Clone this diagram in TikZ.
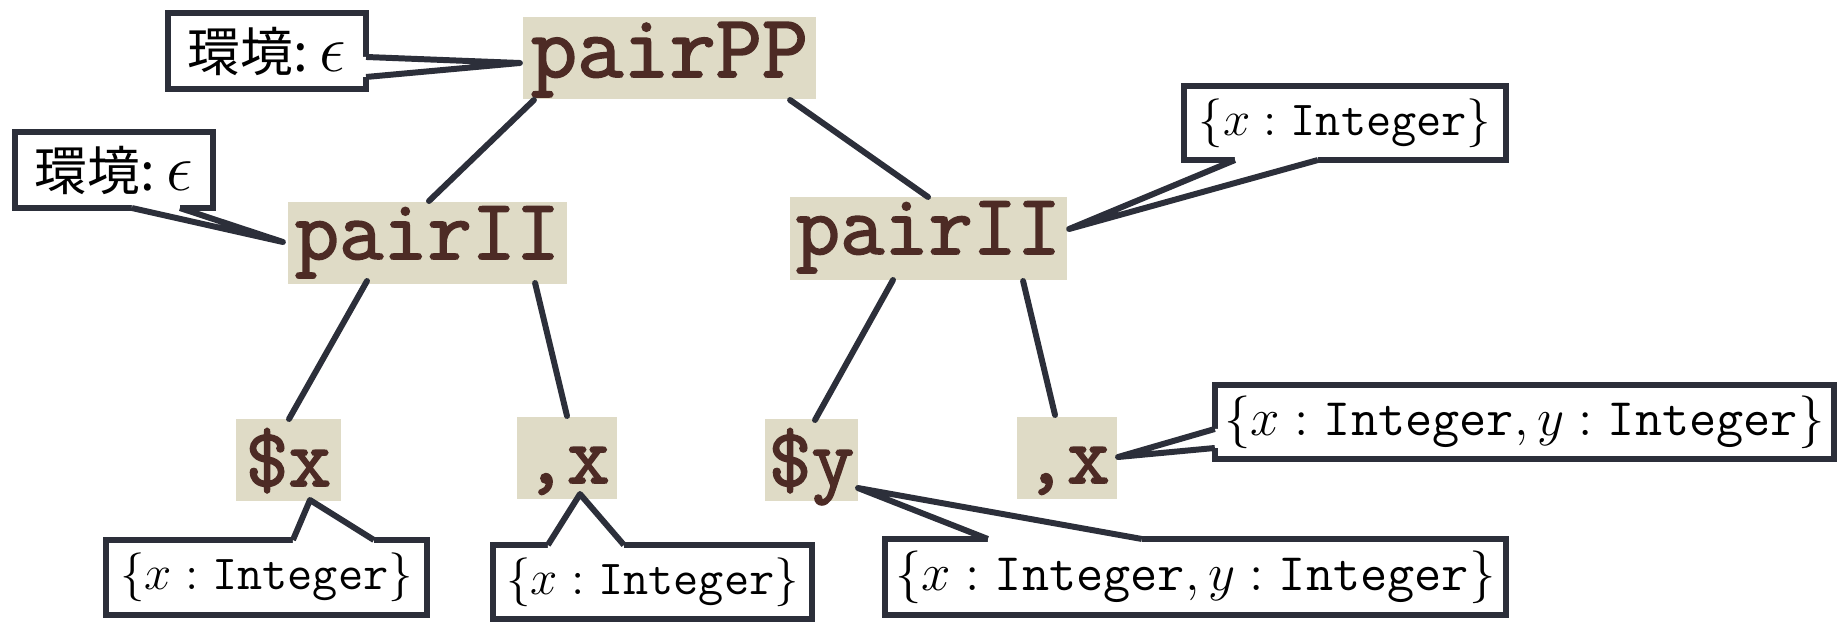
\RequirePackage{fix-cm}
\documentclass[tikz,border=0pt]{standalone}
\usepackage{fontspec}
\newfontfamily\cjkfont{Noto Sans CJK JP}
\newfontfamily\courfont{Latin Modern Mono}[FakeBold=2]
\usetikzlibrary{calc}
\definecolor{boxbg}{HTML}{DFDBC6}
\definecolor{boxtxt}{HTML}{4D2B25}
\definecolor{edgec}{HTML}{2C2F3A}
\tikzset{
  tnode/.style={fill=boxbg, text=boxtxt, inner sep=0pt, outer sep=0pt, align=center},
  cbox/.style={draw=edgec, line width=1.7pt, fill=white, inner sep=0pt, outer sep=0pt},
  ptrline/.style={draw=edgec, line width=1.7pt, line join=round},
  link/.style={draw=edgec, line width=1.7pt, line cap=round},
  smallmath/.style={font=\fontsize{13.9pt}{16pt}\selectfont},
  bigmath/.style={font=\fontsize{15pt}{17pt}\selectfont},
}
\newcommand{\envlabel}{{\cjkfont\fontsize{15pt}{18pt}\selectfont 環境:}\hspace{0.12cm}{\fontsize{19pt}{22pt}\selectfont$\epsilon$}}
\begin{document}
\begin{tikzpicture}[x=0.01cm, y=-0.01cm]
\useasboundingbox (0,0) rectangle (1837,621);
% tree nodes
\node[tnode, font=\courfont\fontsize{25.5pt}{28pt}\selectfont, minimum width=2.93cm, text height=0.60cm, text depth=0.22cm] (pairPP) at (669.5,58) {pairPP};
\node[tnode, font=\courfont\fontsize{24.4pt}{28pt}\selectfont, minimum width=2.79cm, text height=0.57cm, text depth=0.25cm] (pairIIL) at (427.5,243) {pairII};
\node[tnode, font=\courfont\fontsize{24.4pt}{28pt}\selectfont, minimum width=2.77cm, text height=0.57cm, text depth=0.26cm] (pairIIR) at (928.5,238.5) {pairII};
\node[tnode, font=\courfont\fontsize{23.6pt}{28pt}\selectfont, minimum width=1.05cm, text height=0.67cm, text depth=0.15cm] (sx) at (288.5,460) {\$x};
\node[tnode, font=\courfont\fontsize{23.6pt}{28pt}\selectfont, minimum width=1.00cm, text height=0.66cm, text depth=0.16cm] (cxl) at (567,458) {,x};
\node[tnode, font=\courfont\fontsize{23.6pt}{28pt}\selectfont, minimum width=0.93cm, text height=0.67cm, text depth=0.15cm] (sy) at (811.5,460) {\$y};
\node[tnode, font=\courfont\fontsize{23.6pt}{28pt}\selectfont, minimum width=1.00cm, text height=0.66cm, text depth=0.16cm] (cxr) at (1067,458) {,x};
% links
\draw[link] ($(pairPP.south west)+(11,1)$) -- ($(pairIIL.north)+(1.5,-1)$);
\draw[link] ($(pairPP.south east)+(-26,1)$) -- ($(pairIIR.north)+(-0.5,0)$);
\draw[link] ($(pairIIL.south)+(-60.5,-3)$) -- ($(sx.north)+(0.5,0)$);
\draw[link] ($(pairIIL.south east)+(-32,-1)$) -- ($(cxl.north)+(0,-1)$);
\draw[link] ($(pairIIR.south)+(-35.5,0)$) -- ($(sy.north)+(3.5,1)$);
\draw[link] ($(pairIIR.south east)+(-44,1)$) -- ($(cxr.north)+(-12,-2)$);
% callout boxes
\node[cbox, minimum width=1.98cm, minimum height=0.76cm] (c1) at (267,51) {\envlabel};
\node[cbox, minimum width=1.98cm, minimum height=0.76cm] (c2) at (114,170) {\envlabel};
\node[cbox, smallmath, minimum width=3.22cm, minimum height=0.74cm] (c3) at (1345,123) {$\{x:\texttt{Integer}\}$};
\node[cbox, smallmath, minimum width=3.21cm, minimum height=0.75cm] (c4) at (266.5,577.5) {$\{x:\texttt{Integer}\}$};
\node[cbox, smallmath, minimum width=3.19cm, minimum height=0.74cm] (c5) at (652.5,582) {$\{x:\texttt{Integer}\}$};
\node[cbox, bigmath, minimum width=6.21cm, minimum height=0.76cm] (c6) at (1195.5,577) {$\{x:\texttt{Integer},y:\texttt{Integer}\}$};
\node[cbox, bigmath, minimum width=6.19cm, minimum height=0.74cm] (c7) at (1524.5,422) {$\{x:\texttt{Integer},y:\texttt{Integer}\}$};
% pointers
% c1 -> pairPP
\coordinate (c1a) at ($(c1.north east)+(0,44)$);
\coordinate (c1b) at ($(c1.north east)+(0,64)$);
\coordinate (c1t) at ($(pairPP.west)+(-3,5)$);
\fill[white] ($(c1a)+(-6,0)$) -- (c1a) -- (c1t) -- (c1b) -- ($(c1b)+(-6,0)$) -- cycle;
\draw[ptrline] (c1a) -- (c1t) -- (c1b);
% c2 -> pairIIL
\coordinate (c2a) at ($(c2.south west)+(117,0)$);
\coordinate (c2b) at ($(c2.south west)+(165,0)$);
\coordinate (c2t) at ($(pairIIL.west)+(-5,-1)$);
\fill[white] ($(c2a)+(0,-6)$) -- (c2a) -- (c2t) -- (c2b) -- ($(c2b)+(0,-6)$) -- cycle;
\draw[ptrline] (c2a) -- (c2t) -- (c2b);
% c3 -> pairIIR
\coordinate (c3a) at ($(c3.south west)+(51,0)$);
\coordinate (c3b) at ($(c3.south west)+(134,0)$);
\coordinate (c3t) at ($(pairIIR.east)+(2,-9.5)$);
\fill[white] ($(c3a)+(0,-6)$) -- (c3a) -- (c3t) -- (c3b) -- ($(c3b)+(0,-6)$) -- cycle;
\draw[ptrline] (c3a) -- (c3t) -- (c3b);
% c4 -> sx
\coordinate (c4a) at ($(c4.north west)+(187,0)$);
\coordinate (c4b) at ($(c4.north west)+(268,0)$);
\coordinate (c4t) at ($(sx.south)+(21.5,-1)$);
\fill[white] ($(c4a)+(0,6)$) -- (c4a) -- (c4t) -- (c4b) -- ($(c4b)+(0,6)$) -- cycle;
\draw[ptrline] (c4a) -- (c4t) -- (c4b);
% c5 -> cxl
\coordinate (c5a) at ($(c5.north west)+(55,0)$);
\coordinate (c5b) at ($(c5.north west)+(131,0)$);
\coordinate (c5t) at ($(cxl.south)+(13,-5)$);
\fill[white] ($(c5a)+(0,6)$) -- (c5a) -- (c5t) -- (c5b) -- ($(c5b)+(0,6)$) -- cycle;
\draw[ptrline] (c5a) -- (c5t) -- (c5b);
% c6 -> sy
\coordinate (c6a) at ($(c6.north west)+(103,0)$);
\coordinate (c6b) at ($(c6.north west)+(257,0)$);
\coordinate (c6t) at ($(sy.south east)+(0,-13)$);
\fill[white] ($(c6a)+(0,6)$) -- (c6a) -- (c6t) -- (c6b) -- ($(c6b)+(0,6)$) -- cycle;
\draw[ptrline] (c6a) -- (c6t) -- (c6b);
% c7 -> cxr
\coordinate (c7a) at ($(c7.north west)+(0,44)$);
\coordinate (c7b) at ($(c7.north west)+(0,63)$);
\coordinate (c7t) at ($(cxr.east)+(1,-1)$);
\fill[white] ($(c7a)+(6,0)$) -- (c7a) -- (c7t) -- (c7b) -- ($(c7b)+(6,0)$) -- cycle;
\draw[ptrline] (c7a) -- (c7t) -- (c7b);
\end{tikzpicture}
\end{document}
